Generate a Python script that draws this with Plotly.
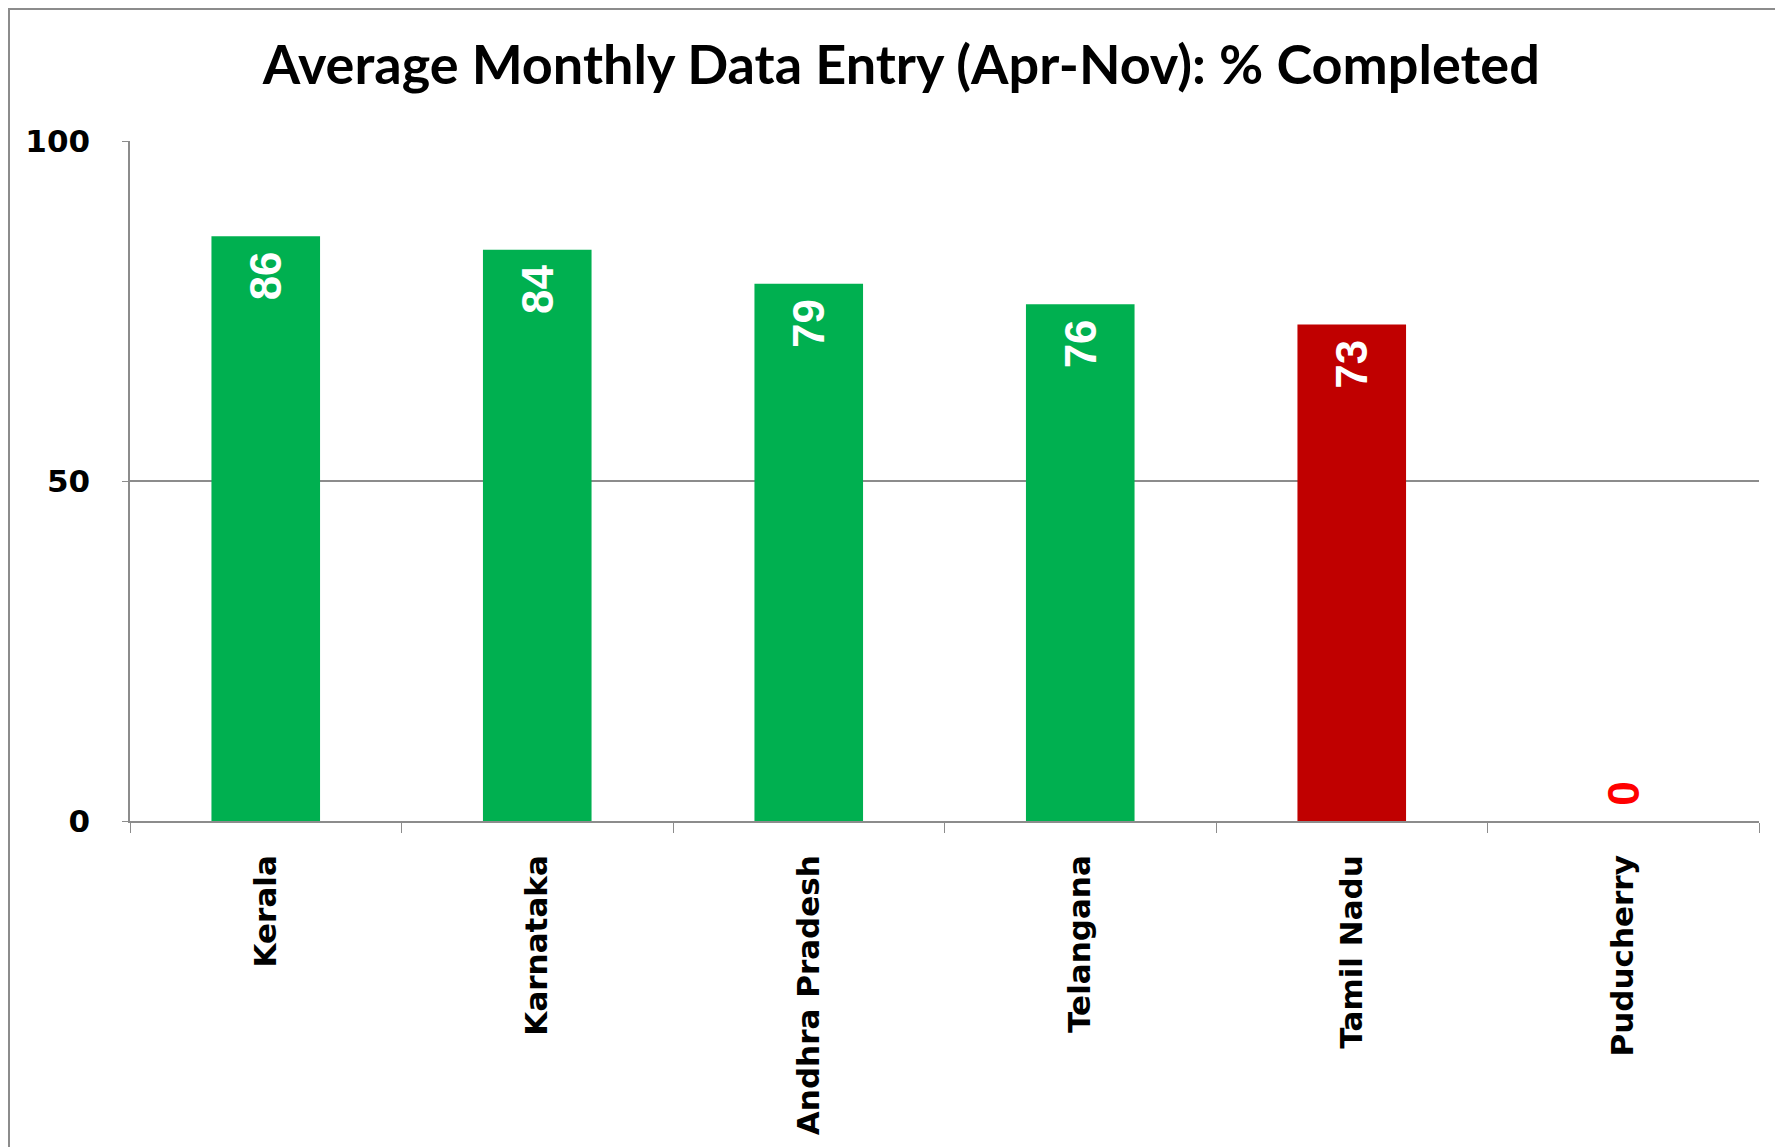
import plotly.graph_objects as go

states = ["Kerala", "Karnataka", "Andhra Pradesh", "Telangana", "Tamil Nadu", "Puducherry"]
pct_completed = [86, 84, 79, 76, 73, 0]
bar_colors = ["#00B050", "#00B050", "#00B050", "#00B050", "#C00000", "#C00000"]
label_colors = ["white", "white", "white", "white", "white", "#FF0000"]
label_pos = ["inside", "inside", "inside", "inside", "inside", "outside"]

# a non-breaking space keeps the labels a little away from the bar end
labels = [f"{v}\u00a0" if p == "inside" else f"\u00a0{v}" for v, p in zip(pct_completed, label_pos)]

fig = go.Figure(
    go.Bar(
        x=states,
        y=pct_completed,
        marker=dict(color=bar_colors, line=dict(width=0)),
        text=labels,
        textposition=label_pos,
        textangle=-90,
        insidetextanchor="end",
        textfont=dict(family="Liberation Sans", size=44, color=label_colors, weight="bold"),
        cliponaxis=False,
        width=0.4,
    )
)

fig.update_layout(
    width=1783,
    height=1147,
    margin=dict(l=122, r=32, t=133, b=334),
    plot_bgcolor="white",
    paper_bgcolor="white",
    showlegend=False,
    title=dict(
        text="Average Monthly Data Entry (Apr-Nov): % Completed",
        x=0.501, xanchor="center",
        y=1 - 57 / 1147, yanchor="middle",
        font=dict(family="Lato", size=54, color="black", weight="bold"),
    ),
)

fig.update_yaxes(
    range=[0, 100],
    tickvals=[0, 50, 100],
    showgrid=True,
    gridcolor="#8C8C8C",
    gridwidth=1.5,
    zeroline=False,
    showline=True,
    linecolor="#8C8C8C",
    linewidth=1.5,
    ticks="outside",
    ticklen=6,
    tickcolor="#8C8C8C",
    tickfont=dict(family="DejaVu Sans", size=31, color="black", weight="bold"),
    ticklabelstandoff=26,
)

fig.update_xaxes(
    showline=True,
    linecolor="#8C8C8C",
    linewidth=1.5,
    ticks="outside",
    tickson="boundaries",
    ticklen=10,
    tickcolor="#8C8C8C",
    tickangle=-90,
    tickfont=dict(family="DejaVu Sans", size=31, color="black", weight="bold"),
    ticklabelstandoff=20,
)

# outer chart border
fig.add_shape(
    type="rect", xref="paper", yref="paper",
    x0=(1 - 122) / 1629, x1=1.1, y0=-0.6, y1=(813 - 1) / 680,
    line=dict(color="#8C8C8C", width=2), layer="below",
)

fig.write_html("out.html")
